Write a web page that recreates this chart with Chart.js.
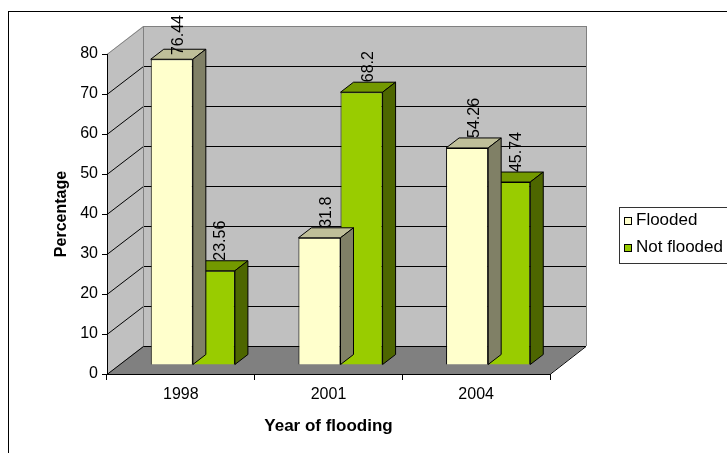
<!DOCTYPE html>
<html>
<head>
<meta charset="utf-8">
<script src="https://cdn.jsdelivr.net/npm/chart.js@4.4.0/dist/chart.umd.min.js"></script>
<style>
  body { margin: 0; background: #fff; }
</style>
</head>
<body>
<canvas id="floodchart" width="727" height="453"></canvas>
<script>
const years = ['1998', '2001', '2004'];
const flooded = [76.44, 31.8, 54.26];
const notFlooded = [23.56, 68.2, 45.74];
const seriesNames = ['Flooded', 'Not flooded'];
const yTicks = [0, 10, 20, 30, 40, 50, 60, 70, 80];

// front, top and side face of each bar
const faceColors = [
    ['#FFFFCC', '#BFBF99', '#808066'],
    ['#99CC00', '#739900', '#4D6600']
];

const FONT = 'Arial, "Liberation Sans", sans-serif';

// depth of the box, where the bars stand in it and how deep they are
const wallDepth = { x: 36, y: -28 };
const barShift = { x: 12, y: -9 };
const barDepth = { x: 13, y: -10 };
const frameTop = 11;

function poly(ctx, pts, fill, stroke) {
    ctx.beginPath();
    ctx.moveTo(pts[0][0], pts[0][1]);
    for (let i = 1; i < pts.length; i++) ctx.lineTo(pts[i][0], pts[i][1]);
    ctx.closePath();
    if (fill) { ctx.fillStyle = fill; ctx.fill(); }
    if (stroke) { ctx.strokeStyle = stroke; ctx.lineWidth = 1; ctx.stroke(); }
}

function line(ctx, x1, y1, x2, y2, color) {
    ctx.beginPath();
    ctx.moveTo(x1, y1);
    ctx.lineTo(x2, y2);
    ctx.strokeStyle = color;
    ctx.lineWidth = 1;
    ctx.stroke();
}

// side wall, back wall and floor, drawn under the axes
const wallsPlugin = {
    id: 'walls',
    beforeDraw(chart) {
        const ctx = chart.ctx;
        const xs = chart.scales.x, ys = chart.scales.y;
        const l = xs.left, r = xs.right;
        const y0 = ys.getPixelForValue(ys.min);
        const yTop = ys.getPixelForValue(ys.max);
        const dx = wallDepth.x, dy = wallDepth.y;
        ctx.save();
        poly(ctx, [[l, yTop], [l + dx, yTop + dy], [l + dx, y0 + dy], [l, y0]], '#C0C0C0');
        poly(ctx, [[l + dx, yTop + dy], [r + dx, yTop + dy], [r + dx, y0 + dy], [l + dx, y0 + dy]], '#C0C0C0');
        poly(ctx, [[l, y0], [l + dx, y0 + dy], [r + dx, y0 + dy], [r, y0]], '#808080');

        yTicks.forEach(v => {
            const y = Math.round(ys.getPixelForValue(v)) + 0.5;
            const col = v === ys.max ? '#808080' : '#000';
            line(ctx, l, y, l + dx + 0.5, y + dy, col);
            line(ctx, l + dx + 0.5, y + dy, r + dx, y + dy, col);
        });
        line(ctx, l + dx + 0.5, yTop + dy, l + dx + 0.5, y0 + dy, '#808080');
        line(ctx, r + dx + 0.5, yTop + dy, r + dx + 0.5, y0 + dy, '#808080');
        line(ctx, r, y0 + 0.5, r + dx, y0 + dy + 0.5, '#000');
        ctx.restore();
    }
};

// bars are pushed back into the box, then get a top and a side face
const barsPlugin = {
    id: 'bars3d',
    beforeDatasetsDraw(chart) {
        chart.ctx.save();
        chart.ctx.translate(barShift.x, barShift.y);
    },
    afterDatasetDraw(chart, args) {
        const ctx = chart.ctx;
        const colors = faceColors[args.index];
        args.meta.data.forEach(bar => {
            const p = bar.getProps(['x', 'y', 'base', 'width'], true);
            const left = p.x - p.width / 2, right = p.x + p.width / 2;
            const top = p.y, bottom = p.base;
            const tx = barDepth.x, ty = barDepth.y;
            poly(ctx, [[left, top], [left + tx, top + ty], [right + tx, top + ty], [right, top]], colors[1], '#000');
            poly(ctx, [[right, top], [right + tx, top + ty], [right + tx, bottom + ty], [right, bottom]], colors[2], '#000');
        });
    },
    afterDatasetsDraw(chart) {
        const ctx = chart.ctx;
        ctx.restore();
        // value labels, turned upright above each bar
        ctx.save();
        ctx.font = '16px ' + FONT;
        ctx.fillStyle = '#000';
        ctx.textAlign = 'left';
        ctx.textBaseline = 'middle';
        chart.data.datasets.forEach((ds, i) => {
            chart.getDatasetMeta(i).data.forEach((bar, j) => {
                const text = String(ds.data[j]);
                const w = ctx.measureText(text).width;
                const bx = bar.x + barShift.x + 7;
                let by = bar.y + barShift.y + barDepth.y;
                by = Math.max(by, frameTop + 4 + w);
                ctx.save();
                ctx.translate(bx, by);
                ctx.rotate(-Math.PI / 2);
                ctx.fillText(text, 0, 0);
                ctx.restore();
            });
        });
        ctx.restore();
    }
};

// outer frame and the boxed legend on the right
const framePlugin = {
    id: 'frame',
    afterDraw(chart) {
        const ctx = chart.ctx;
        ctx.save();
        ctx.strokeStyle = '#000';
        ctx.lineWidth = 1;
        ctx.strokeRect(8.5, frameTop + 0.5, 800, 500);

        ctx.strokeStyle = '#333';
        ctx.strokeRect(619.5, 207.5, 140, 56);
        ctx.font = '17px ' + FONT;
        ctx.textBaseline = 'middle';
        ctx.textAlign = 'left';
        ctx.strokeStyle = '#000';
        seriesNames.forEach((name, i) => {
            const y = 220 + i * 27;
            ctx.fillStyle = faceColors[i][0];
            ctx.fillRect(624.5, y - 2.5, 7, 7);
            ctx.strokeRect(624.5, y - 2.5, 7, 7);
            ctx.fillStyle = '#000';
            ctx.fillText(name, 636, y);
        });
        ctx.restore();
    }
};

function drawChart(id) {
    let ctx = document.getElementById(id).getContext('2d');
    return new Chart(ctx, {
        type: 'bar',
        data: {
            labels: years,
            datasets: [
                { label: seriesNames[0], data: flooded, backgroundColor: faceColors[0][0] },
                { label: seriesNames[1], data: notFlooded, backgroundColor: faceColors[1][0] }
            ]
        },
        options: {
            responsive: false,
            animation: false,
            devicePixelRatio: 1,
            datasets: {
                bar: {
                    categoryPercentage: 0.57,
                    barPercentage: 1,
                    borderColor: '#000',
                    borderWidth: 1,
                    clip: false
                }
            },
            layout: { padding: { left: 48, top: 54, right: 177, bottom: 12 } },
            plugins: {
                legend: { display: false },
                tooltip: { enabled: false }
            },
            scales: {
                x: {
                    grid: { drawOnChartArea: false, tickLength: 6, color: '#000' },
                    border: { color: '#000' },
                    ticks: { color: '#000', font: { family: FONT, size: 16 }, padding: 5 },
                    title: {
                        display: true,
                        text: 'Year of flooding',
                        color: '#000',
                        font: { family: FONT, size: 17, weight: 'bold' }
                    },
                    afterFit: s => { s.height = 67; }
                },
                y: {
                    min: 0,
                    max: 80,
                    afterBuildTicks: s => { s.ticks = yTicks.map(v => ({ value: v })); },
                    grid: { drawOnChartArea: false, tickLength: 5, color: '#000' },
                    border: { color: '#000' },
                    ticks: { color: '#000', font: { family: FONT, size: 16 }, padding: 4 },
                    title: {
                        display: true,
                        text: 'Percentage',
                        color: '#000',
                        font: { family: FONT, size: 16, weight: 'bold' }
                    },
                    afterFit: s => { s.width = 59; }
                }
            }
        },
        plugins: [wallsPlugin, barsPlugin, framePlugin]
    });
}

drawChart('floodchart');
</script>
</body>
</html>
